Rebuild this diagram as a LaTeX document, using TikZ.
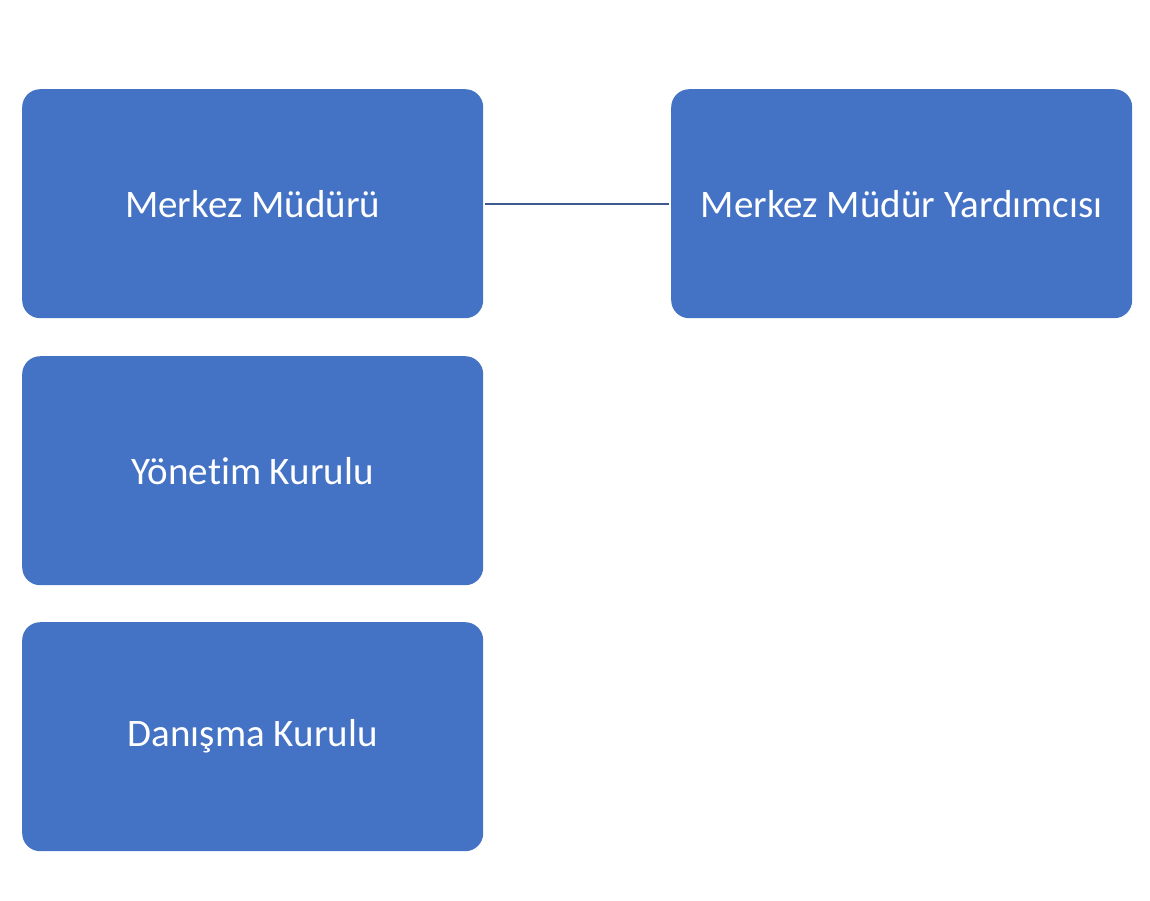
\documentclass[tikz,border=0pt]{standalone}
\usepackage{fontspec}
\setmainfont{Carlito}[Ligatures=NoCommon]
\definecolor{boxblue}{HTML}{4472C4}
\definecolor{linkblue}{HTML}{3F5A8E}
\begin{document}
\begin{tikzpicture}[x=1pt,y=-1pt,
  orgbox/.style={fill=boxblue, draw=none, rounded corners=18pt, minimum width=461pt, minimum height=229pt, inner sep=0pt, text=white, font=\fontsize{39}{47}\selectfont, anchor=north west},
  link/.style={draw=linkblue, line width=2pt}]
\useasboundingbox (0,0) rectangle (1150,900);
\node[orgbox] (mm) at (22,89) {Merkez Müdürü};
\node[orgbox] (mmy) at (671,89) {Merkez Müdür Yardımcısı};
\node[orgbox] (yk) at (22,356) {Yönetim Kurulu};
\node[orgbox] (dk) at (22,622) {Danışma Kurulu};
\draw[link] ([xshift=2pt]mm.east) -- ([xshift=-2pt]mmy.west);
\end{tikzpicture}
\end{document}
